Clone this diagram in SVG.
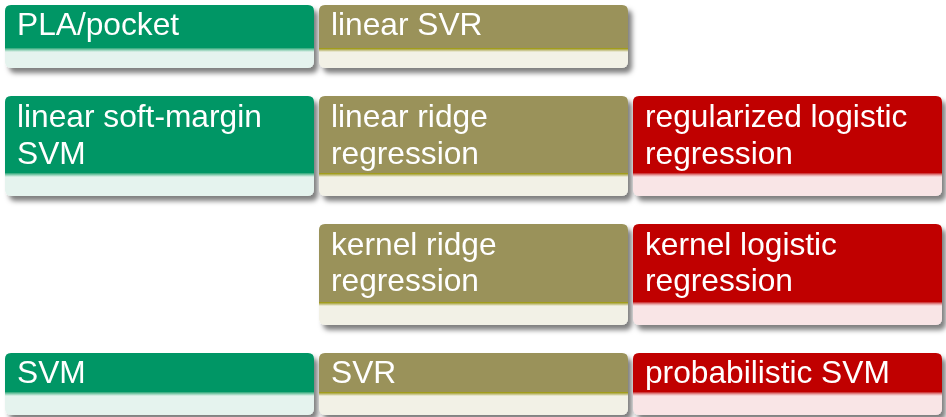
<svg xmlns="http://www.w3.org/2000/svg" width="946" height="417" viewBox="0 0 946 417">
  <style>
    text { font-family: "Liberation Sans", Arial, sans-serif; font-size: 31.7px; fill: #ffffff; }
    .gB { fill: #E5F3EE; }
    .oB { fill: #F2F1E6; }
    .rB { fill: #F9E5E6; }
    .gT { fill: #009665; }
    .oT { fill: #9A925A; }
    .rT { fill: #C00000; }
    .blk { filter: url(#shadow); }
  </style>
  <defs>
    <filter id="shadow" x="-5%" y="-10%" width="115%" height="135%">
      <feDropShadow dx="4" dy="5" stdDeviation="2.5" flood-color="#000" flood-opacity="0.5"/>
    </filter>
    <linearGradient id="gBand" x1="0" y1="0" x2="0" y2="1">
      <stop offset="0" stop-color="#2AA677"/>
      <stop offset="0.5" stop-color="#8ED0B5"/>
      <stop offset="1" stop-color="#E5F3EE"/>
    </linearGradient>
    <linearGradient id="oBand" x1="0" y1="0" x2="0" y2="1">
      <stop offset="0" stop-color="#999400"/>
      <stop offset="0.45" stop-color="#B9B56A"/>
      <stop offset="1" stop-color="#F2F1E6"/>
    </linearGradient>
    <linearGradient id="rBand" x1="0" y1="0" x2="0" y2="1">
      <stop offset="0" stop-color="#C82020"/>
      <stop offset="0.5" stop-color="#E59A9C"/>
      <stop offset="1" stop-color="#F9E5E6"/>
    </linearGradient>
  </defs>

  <g id="connectors"/>

  <!-- Row 1 -->
  <g id="pla-pocket" class="blk">
    <rect class="gB" x="5" y="5" width="309" height="63" rx="6"/>
    <path class="gT" d="M5,48 V11 Q5,5 11,5 H308 Q314,5 314,11 V48 Z"/>
    <rect x="5" y="48" width="309" height="4" fill="url(#gBand)"/>
    <text x="17" y="35">PLA/pocket</text>
  </g>
  <g id="linear-svr" class="blk">
    <rect class="oB" x="319" y="5" width="309" height="63" rx="6"/>
    <path class="oT" d="M319,48 V11 Q319,5 325,5 H622 Q628,5 628,11 V48 Z"/>
    <rect x="319" y="48" width="309" height="4" fill="url(#oBand)"/>
    <text x="331" y="35">linear SVR</text>
  </g>

  <!-- Row 2 -->
  <g id="linear-soft-margin-svm" class="blk">
    <rect class="gB" x="5" y="96" width="309" height="100" rx="6"/>
    <path class="gT" d="M5,173 V102 Q5,96 11,96 H308 Q314,96 314,102 V173 Z"/>
    <rect x="5" y="173" width="309" height="4" fill="url(#gBand)"/>
    <text x="17" y="127">linear soft-margin</text>
    <text x="17" y="164">SVM</text>
  </g>
  <g id="linear-ridge-regression" class="blk">
    <rect class="oB" x="319" y="96" width="309" height="100" rx="6"/>
    <path class="oT" d="M319,173 V102 Q319,96 325,96 H622 Q628,96 628,102 V173 Z"/>
    <rect x="319" y="173" width="309" height="4" fill="url(#oBand)"/>
    <text x="331" y="127">linear ridge</text>
    <text x="331" y="164">regression</text>
  </g>
  <g id="regularized-logistic-regression" class="blk">
    <rect class="rB" x="633" y="96" width="309" height="100" rx="6"/>
    <path class="rT" d="M633,173 V102 Q633,96 639,96 H936 Q942,96 942,102 V173 Z"/>
    <rect x="633" y="173" width="309" height="4" fill="url(#rBand)"/>
    <text x="645" y="127">regularized logistic</text>
    <text x="645" y="164">regression</text>
  </g>

  <!-- Row 3 -->
  <g id="kernel-ridge-regression" class="blk">
    <rect class="oB" x="319" y="224" width="309" height="101" rx="6"/>
    <path class="oT" d="M319,302 V230 Q319,224 325,224 H622 Q628,224 628,230 V302 Z"/>
    <rect x="319" y="302" width="309" height="4" fill="url(#oBand)"/>
    <text x="331" y="255">kernel ridge</text>
    <text x="331" y="291">regression</text>
  </g>
  <g id="kernel-logistic-regression" class="blk">
    <rect class="rB" x="633" y="224" width="309" height="101" rx="6"/>
    <path class="rT" d="M633,302 V230 Q633,224 639,224 H936 Q942,224 942,230 V302 Z"/>
    <rect x="633" y="302" width="309" height="4" fill="url(#rBand)"/>
    <text x="645" y="255">kernel logistic</text>
    <text x="645" y="291">regression</text>
  </g>

  <!-- Row 4 -->
  <g id="svm" class="blk">
    <rect class="gB" x="5" y="353" width="309" height="62" rx="6"/>
    <path class="gT" d="M5,392 V359 Q5,353 11,353 H308 Q314,353 314,359 V392 Z"/>
    <rect x="5" y="392" width="309" height="4" fill="url(#gBand)"/>
    <text x="17" y="383">SVM</text>
  </g>
  <g id="svr" class="blk">
    <rect class="oB" x="319" y="353" width="309" height="62" rx="6"/>
    <path class="oT" d="M319,392 V359 Q319,353 325,353 H622 Q628,353 628,359 V392 Z"/>
    <rect x="319" y="392" width="309" height="4" fill="url(#oBand)"/>
    <text x="331" y="383">SVR</text>
  </g>
  <g id="probabilistic-svm" class="blk">
    <rect class="rB" x="633" y="353" width="309" height="62" rx="6"/>
    <path class="rT" d="M633,392 V359 Q633,353 639,353 H936 Q942,353 942,359 V392 Z"/>
    <rect x="633" y="392" width="309" height="4" fill="url(#rBand)"/>
    <text x="645" y="383">probabilistic SVM</text>
  </g>
</svg>
